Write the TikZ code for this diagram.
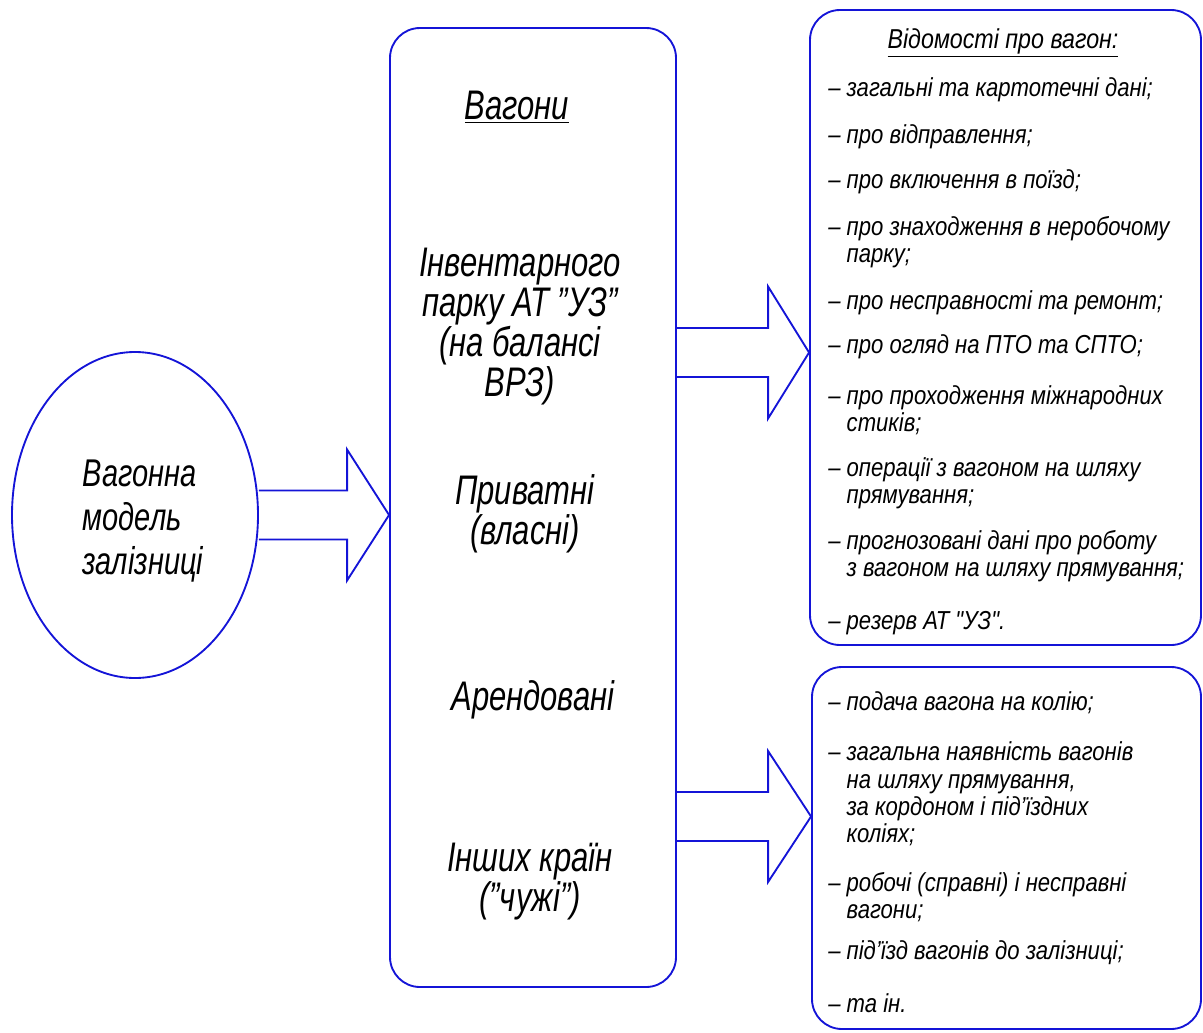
\documentclass[tikz,border=0pt]{standalone}
\usepackage{fontspec}
\setmainfont{Liberation Sans}[FakeStretch=0.75]
\newfontfamily\itemfont{Liberation Sans}[FakeStretch=0.85]
\usetikzlibrary{shapes.geometric,calc}
\definecolor{lineblue}{RGB}{20,20,215}
\tikzset{
  outl/.style={draw=lineblue, line width=1.4pt},
  rbox/.style={outl, rectangle, rounded corners=22.5pt, inner sep=0pt},
  blk/.style={draw=lineblue, line width=1.4pt, line join=miter},
  midtxt/.style={font=\fontsize{31}{30}\selectfont\itshape, align=center, inner sep=0pt},
  elltxt/.style={font=\fontsize{29}{33}\selectfont\itshape, align=left, inner sep=0pt},
  item/.style={font=\itemfont\fontsize{19.5}{20.5}\selectfont\itshape, align=left, anchor=west, inner sep=0pt},
  head/.style={font=\itemfont\fontsize{20.5}{20.5}\selectfont\itshape, inner sep=0pt},
}
\newcommand\blockarrow[5]{%
  \draw[blk] ($(#1)+(0,-#3)$) -- ($(#2)+(-#5,-#3)$) -- ($(#2)+(-#5,-#4)$) -- (#2)
    -- ($(#2)+(-#5,#4)$) -- ($(#2)+(-#5,#3)$) -- ($(#1)+(0,#3)$);}
\newcommand\ind{\phantom{–~}}
\begin{document}
\begin{tikzpicture}[x=0.75pt,y=-0.75pt]
\useasboundingbox (0,0) rectangle (1203,1032);
% shapes
\node[outl, ellipse, minimum width=184.5pt, minimum height=244.5pt, inner sep=0pt] (ell) at (135,515) {};
\node[rbox, minimum width=214.5pt, minimum height=719.25pt] (mid) at (533,507.5) {};
\node[rbox, minimum width=293.25pt, minimum height=476.25pt] (info) at (1005.5,327.5) {};
\node[rbox, minimum width=291.75pt, minimum height=271.5pt] (avail) at (1006.5,848) {};
% ellipse text
\node[elltxt] (elltext) at (143,521) {Вагонна\\модель\\залізниці};
% middle texts
\node[midtxt] (wtitle) at (517,107) {\underline{Вагони}};
\node[midtxt] (winv) at (520,327) {Інвентарного\\парку АТ "УЗ"\\(на балансі\\ВРЗ)};
\node[midtxt] (wpriv) at (525,514) {Приватні\\(власні)};
\node[midtxt] (wrent) at (533,700) {Арендовані};
\node[midtxt] (wfor) at (530,882) {Інших країн\\("чужі")};
% arrows
\coordinate (y2) at (0,352.5);
\coordinate (y3) at (0,816.5);
\coordinate (s1) at (ell.east);
\coordinate (t1) at (mid.west |- ell.east);
\coordinate (s2) at (mid.east |- y2);
\coordinate (t2) at (info.west |- y2);
\coordinate (s3) at (mid.east |- y3);
\coordinate (t3) at (avail.west |- y3);
\blockarrow{s1}{t1}{24.5}{65.5}{42}
\blockarrow{s2}{t2}{24.5}{66}{41}
\blockarrow{s3}{t3}{24.5}{65.5}{43}
% info box text
\node[head] (ihead) at (1003,43) {\underline{Відомості про вагон:}};
\node[item] (i1) at (828,90) {– загальні та картотечні дані;};
\node[item] (i2) at (828,137) {– про відправлення;};
\node[item] (i3) at (828,182) {– про включення в поїзд;};
\node[item] (i4) at (828,242) {– про знаходження в неробочому\\\ind парку;};
\node[item] (i5) at (828,303) {– про несправності та ремонт;};
\node[item] (i6) at (828,347) {– про огляд на ПТО та СПТО;};
\node[item] (i7) at (828,410) {– про проходження міжнародних\\\ind стиків;};
\node[item] (i8) at (828,483) {– операції з вагоном на шляху\\\ind прямування;};
\node[item] (i9) at (828,556) {– прогнозовані дані про роботу\\\ind з вагоном на шляху прямування;};
\node[item] (i10) at (828,623) {– резерв АТ "УЗ".};
% avail box text
\node[item] (a1) at (828,703) {– подача вагона на колію;};
\node[item] (a2) at (828,794) {– загальна наявність вагонів\\\ind на шляху прямування,\\\ind за кордоном і під’їздних\\\ind коліях;};
\node[item] (a3) at (828,897) {– робочі (справні) і несправні\\\ind вагони;};
\node[item] (a4) at (828,953) {– під’їзд вагонів до залізниці;};
\node[item] (a5) at (828,1003) {– та ін.};
\end{tikzpicture}
\end{document}
